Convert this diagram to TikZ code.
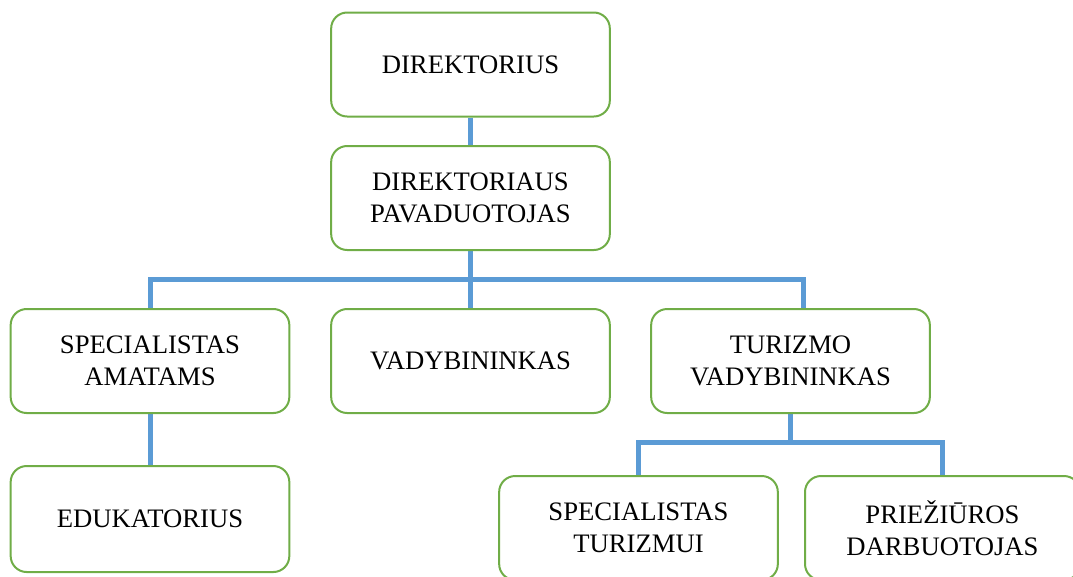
\documentclass[tikz,border=0pt]{standalone}
\usepackage{fontspec}
\setmainfont{Liberation Serif}
\usetikzlibrary{backgrounds}
\definecolor{boxgreen}{RGB}{112,173,71}
\definecolor{linkblue}{RGB}{91,155,213}
\begin{document}
\begin{tikzpicture}[x=0.75pt,y=-0.75pt,
  box/.style={draw=boxgreen,line width=1.5pt,rounded corners=12pt,fill=white,
    align=center,font=\fontsize{20}{24}\selectfont,
    minimum width=209pt,minimum height=78pt,inner sep=0pt},
  link/.style={draw=linkblue,line width=3.75pt}]
\useasboundingbox (0,0) rectangle (1073,576);
\clip (0,0) rectangle (1073,576);
\node[box] (dir) at (470.5,64.5) {DIREKTORIUS};
\node[box] (pav) at (470.5,198) {DIREKTORIAUS\\PAVADUOTOJAS};
\node[box] (spec) at (150,361) {SPECIALISTAS\\AMATAMS};
\node[box] (vad) at (470.5,361) {VADYBININKAS};
\node[box] (tur) at (790.5,361) {TURIZMO\\VADYBININKAS};
\node[box,minimum height=79.5pt] (edu) at (150,519) {EDUKATORIUS};
\node[box] (st) at (638.5,528) {SPECIALISTAS\\TURIZMUI};
\node[box,minimum width=206.25pt] (pr) at (942.5,528) {PRIEŽIŪROS\\DARBUOTOJAS};
\coordinate (b1) at (470.5,279);
\coordinate (b2) at (790.5,442);
\begin{scope}[on background layer]
\draw[link] (dir.south) -- (pav.north);
\draw[link] (pav.south) -- (vad.north);
\draw[link] (spec.north) |- (b1) -| ([xshift=9.4pt]tur.north);
\draw[link] (spec.south) -- (edu.north);
\draw[link] (tur.south) -- (b2);
\draw[link] (st.north) |- (b2) -| (pr.north);
\end{scope}
\end{tikzpicture}
\end{document}
